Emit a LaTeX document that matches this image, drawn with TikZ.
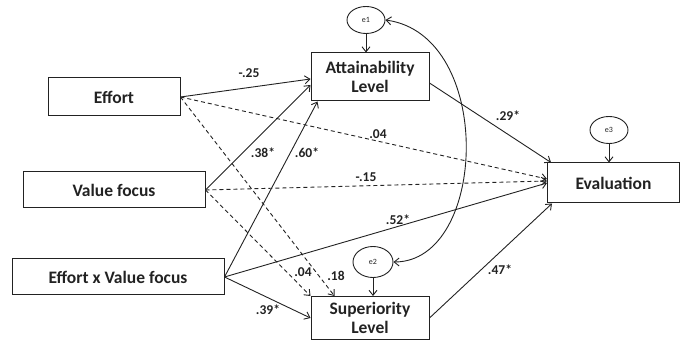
\documentclass[tikz,border=0pt]{standalone}
\usepackage{fontspec}
\setmainfont{Carlito}
\usetikzlibrary{arrows.meta,calc,shapes.geometric}
\definecolor{ink}{HTML}{222222}
\tikzset{
  varbox/.style={draw=ink,line width=1pt,rectangle,inner sep=0pt,align=center,font=\bfseries\fontsize{17.5}{18.5}\selectfont,text=ink},
  errnode/.style={draw=ink,line width=0.9pt,ellipse,inner sep=0pt,minimum width=38pt,minimum height=27pt,font=\fontsize{8}{9}\selectfont,text=ink},
  path/.style={draw=ink,line width=0.9pt,-{Straight Barb[length=5pt,width=8pt]}},
  dpath/.style={path,dash pattern=on 4pt off 3pt},
  coef/.style={font=\bfseries\fontsize{13.5}{14}\selectfont,text=ink,inner sep=0pt}
}
\begin{document}
\begin{tikzpicture}[x=1pt,y=-1pt]
\useasboundingbox (0,0) rectangle (681,344);
% boxes
\node[varbox,minimum width=132pt,minimum height=38pt] (eff) at (114,97) {Effort};
\node[varbox,minimum width=182pt,minimum height=36pt] (vf) at (114,190) {Value focus};
\node[varbox,minimum width=212pt,minimum height=36pt] (evf) at (118,277) {Effort x Value focus};
\node[varbox,minimum width=118pt,minimum height=48pt] (att) at (370,77) {Attainability\\Level};
\node[varbox,minimum width=118pt,minimum height=43pt] (sup) at (370,318) {Superiority\\Level};
\node[varbox,minimum width=132pt,minimum height=40pt] (ev) at (613.5,183) {Evaluation};
% error terms
\node[errnode] (e1) at (366,20) {e1};
\node[errnode,minimum width=40pt,minimum height=31pt] (e2) at (373,262) {e2};
\node[errnode] (e3) at (609,130) {e3};
% paths from Effort
\draw[path] (eff.east) -- ($(att.west)+(0,2)$);
\draw[dpath] (eff.east) -- ($(ev.west)+(0,-4)$);
\draw[dpath] (eff.east) -- ($(sup.north west)+(24,0)$);
% paths from Value focus
\draw[path] (vf.east) -- ($(att.west)+(0,8)$);
\draw[dpath] (vf.east) -- ($(ev.west)+(0,-2)$);
\draw[dpath] (vf.east) -- (sup.north west);
% paths from interaction
\draw[path] (evf.east) -- ($(att.south west)+(7,0)$);
\draw[path] (evf.east) -- (ev.west);
\draw[path] (evf.east) -- (sup.west);
% mediators to evaluation
\draw[path] ($(att.east)+(0,6)$) -- ($(ev.north west)+(4,0)$);
\draw[path] (sup.east) -- ($(ev.south west)+(5,0)$);
% error arrows
\draw[path] (e1.south) -- (att.north -| e1.south);
\draw[path] (e2.south) -- (sup.north -| e2.south);
\draw[path] (e3.south) -- (ev.north -| e3.south);
% covariance
\draw[draw=ink,line width=0.9pt,{Straight Barb[length=5pt,width=8pt]}-{Straight Barb[length=5pt,width=8pt]}]
  (e1.east) .. controls (495,35) and (488,262) .. (e2.east);
% coefficients
\node[coef] (c1) at (249,73) {-.25};
\node[coef] (c2) at (378,134) {.04};
\node[coef] (c3) at (263,153) {.38*};
\node[coef] (c4) at (307,153) {.60*};
\node[coef] (c5) at (366,177) {-.15};
\node[coef] (c6) at (398,220) {.52*};
\node[coef] (c7) at (303,272) {.04};
\node[coef] (c8) at (336,276) {.18};
\node[coef] (c9) at (268,310) {.39*};
\node[coef] (c10) at (508,116) {.29*};
\node[coef] (c11) at (500,270) {.47*};
\end{tikzpicture}
\end{document}
